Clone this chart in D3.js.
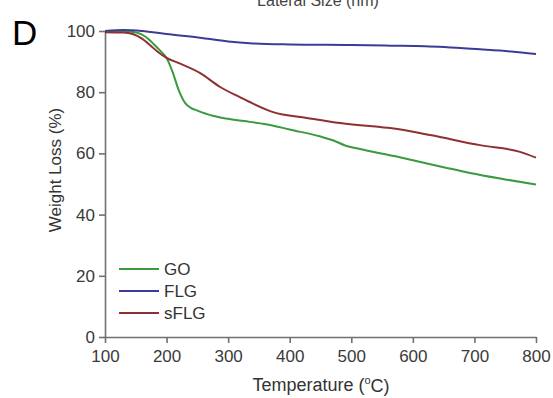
<!DOCTYPE html>
<html lang="en">
<head>
    <meta charset="UTF-8">
    <title>TGA curves with D3.js</title>
    <style>
        body { margin: 0; background: #fff; }
        svg { display: block; font-family: "Liberation Sans", Arial, sans-serif; }
        .tick text { fill: #3a3a3a; font-size: 17px; }
        .domain, .tick line { stroke: #707070; stroke-width: 1.6px; }
    </style>
</head>
<body>
    <div id="chart"></div>

    <script src="https://d3js.org/d3.v7.min.js"></script>
    <script>
        // temperatures (°C) and weight (%)
        const goTemp   = [100, 120, 140, 160, 170, 180, 190, 200, 210, 220, 230, 240, 250, 275, 300, 335, 368, 400, 450, 470, 490, 520, 584, 650, 693, 750, 800];
        const goWeight = [100, 100, 99.8, 98.8, 97.5, 95.5, 93.5, 91.2, 86.5, 80.5, 76.5, 74.8, 74, 72.3, 71.3, 70.3, 69.3, 67.8, 65.5, 64.3, 62.6, 61.2, 58.5, 55.5, 53.6, 51.5, 49.8];

        const flgTemp   = [100, 130, 160, 200, 254, 300, 335, 400, 500, 563, 620, 709, 760, 800];
        const flgWeight = [100, 100.3, 100, 99, 97.8, 96.6, 96, 95.6, 95.4, 95.2, 95, 94, 93.3, 92.5];

        const sflgTemp   = [100, 130, 145, 160, 173, 185, 200, 220, 254, 287, 319, 335, 373, 428, 482, 547, 563, 628, 709, 774, 800];
        const sflgWeight = [99.6, 99.5, 99, 97.5, 95.4, 93.3, 91.2, 89.5, 86.3, 81.7, 78.4, 76.8, 73.5, 71.6, 69.9, 68.6, 68.3, 66, 62.7, 60.5, 58.6];

        const xTicks = [100, 200, 300, 400, 500, 600, 700, 800];
        const yTicks = [0, 20, 40, 60, 80, 100];

        const series = [
            { name: "GO",   temp: goTemp,   weight: goWeight,   color: "#3a9a3e" },
            { name: "FLG",  temp: flgTemp,  weight: flgWeight,  color: "#3c3c96" },
            { name: "sFLG", temp: sflgTemp, weight: sflgWeight, color: "#8e3032" }
        ];

        const width = 553;
        const height = 398;

        const svg = d3.select("#chart").append("svg")
            .attr("width", width)
            .attr("height", height);

        const x = d3.scaleLinear().domain([100, 800]).range([105, 536]);
        const y = d3.scaleLinear().domain([0, 100]).range([337, 31]);

        // axes
        svg.append("g")
            .attr("transform", `translate(0,${y(0)})`)
            .call(d3.axisBottom(x).tickValues(xTicks).tickSize(6).tickPadding(5).tickSizeOuter(0))
            .selectAll("text").attr("dy", "0.85em");

        svg.append("g")
            .attr("transform", `translate(${x(100)},0)`)
            .call(d3.axisLeft(y).tickValues(yTicks).tickSize(6).tickPadding(4).tickSizeOuter(0));

        // curves
        const line = d3.line()
            .x(d => x(d[0]))
            .y(d => y(d[1]))
            .curve(d3.curveMonotoneX);

        svg.selectAll(".curve")
            .data(series)
            .enter()
            .append("path")
            .attr("class", "curve")
            .attr("fill", "none")
            .attr("stroke", d => d.color)
            .attr("stroke-width", 2)
            .attr("d", d => line(d.temp.map((t, i) => [t, d.weight[i]])));

        // legend
        const legend = svg.append("g").attr("transform", "translate(119,269)");
        series.forEach((s, i) => {
            legend.append("line")
                .attr("x1", 0).attr("x2", 40)
                .attr("y1", i * 22).attr("y2", i * 22)
                .attr("stroke", s.color)
                .attr("stroke-width", 2);
            legend.append("text")
                .attr("x", 45)
                .attr("y", i * 22)
                .attr("dy", "0.36em")
                .attr("font-size", "17px")
                .attr("fill", "#333")
                .text(s.name);
        });

        // titles
        svg.append("text")
            .attr("transform", "translate(61,170) rotate(-90)")
            .attr("text-anchor", "middle")
            .attr("font-size", "17px")
            .attr("fill", "#333")
            .text("Weight Loss (%)");

        const xt = svg.append("text")
            .attr("x", 321)
            .attr("y", 391)
            .attr("text-anchor", "middle")
            .attr("font-size", "18px")
            .attr("fill", "#333");
        xt.append("tspan").text("Temperature (");
        xt.append("tspan").attr("font-size", "11px").attr("dy", "-0.6em").text("o");
        xt.append("tspan").attr("dy", "0.4em").text("C)");

        // caption of the panel above, cut by the top edge as in the figure
        svg.append("text")
            .attr("x", 318)
            .attr("y", 6)
            .attr("text-anchor", "middle")
            .attr("font-size", "16px")
            .attr("fill", "#444")
            .text("Lateral Size (nm)");

        // panel letter
        svg.append("text")
            .attr("x", 12)
            .attr("y", 45)
            .attr("font-size", "35px")
            .attr("fill", "#000")
            .text("D");
    </script>
</body>
</html>
